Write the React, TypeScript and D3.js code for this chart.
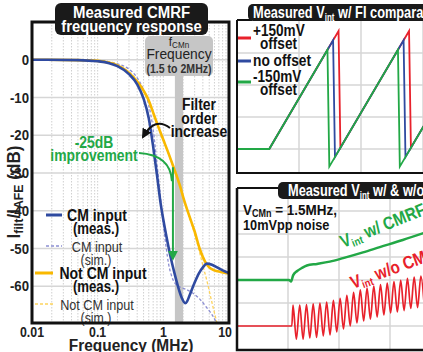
import React from "react";
import * as d3 from "d3";

const FONT = "'Liberation Sans', Arial, sans-serif";

// ---------------- Left chart: measured CMRF frequency response ----------------
const freqTicks = [0.01, 0.1, 1, 10];
const freqTickLabels = ["0.01", "0.1", "1", "10"];
const dbTicks = [0, -10, -20, -30, -40, -50, -60];
const dbTickLabels = ["0", "-10", "-20", "-30", "-40", "-50", "-60"];
const fcmnBand = [1.5, 2];

const cmMeas: [number, number][] = [
  [0.01, 0], [0.05, -0.1], [0.1, -0.4], [0.15, -0.9], [0.2, -1.7], [0.3, -3.8], [0.4, -6.5],
  [0.5, -10.3], [0.6, -15.5], [0.7, -23], [0.8, -30.5], [0.9, -37.5], [1.0, -42.4], [1.14, -47.7],
  [1.28, -52], [1.5, -57], [1.7, -60.5], [1.9, -63], [2.15, -64.5], [2.3, -64], [2.5, -62.5],
  [3.0, -59], [3.5, -56.5], [4.0, -55], [4.6, -54], [5.5, -54.3], [6.6, -55], [8, -55.8], [10, -56.5],
];
const cmSim: [number, number][] = [
  [0.01, 0], [0.1, -0.2], [0.2, -1.1], [0.3, -2.5], [0.4, -4.8], [0.5, -8], [0.6, -12],
  [0.7, -18.5], [0.8, -27.5], [0.9, -36], [1.0, -43.5], [1.1, -49.5], [1.2, -54], [1.35, -57.5],
  [1.5, -59.2], [1.8, -60.2], [2.2, -60.8], [2.8, -61.8], [3.5, -63.2], [4.5, -65.5], [5.5, -67.5],
  [6.6, -70], [7.5, -72],
];
const notCmMeas: [number, number][] = [
  [0.01, 0], [0.05, -0.1], [0.1, -0.3], [0.15, -0.8], [0.2, -1.5], [0.3, -3.5], [0.4, -5.8],
  [0.5, -8.2], [0.6, -10.8], [0.7, -14], [0.8, -16.8], [1.0, -21.2], [1.2, -24.8], [1.4, -28],
  [1.6, -30.8], [1.8, -33.5], [2.0, -36.3], [2.5, -41.5], [3.0, -45.5], [3.6, -50.2], [4.3, -53.4],
  [5.0, -55], [6.0, -55.8], [7.5, -56.2], [10, -56.6],
];
const notCmSim: [number, number][] = [
  [0.01, 0], [0.1, -0.2], [0.2, -1.3], [0.3, -3.2], [0.4, -5.5], [0.5, -8], [0.6, -10.8],
  [0.7, -14], [0.8, -16.9], [1.0, -21.4], [1.4, -28.2], [2.0, -36.5], [2.5, -41.8], [3.0, -46.2],
  [3.5, -50.5], [4.0, -54.5], [4.6, -58.5], [5.2, -62.5], [5.8, -66], [6.5, -69.5], [7.2, -73],
];
const improvementArrow = { f: 1.4, from: -29, to: -53.5 };

const legendMain = ["CM input", "CM input", "Not CM input", "Not CM input"];
const legendSub = ["(meas.)", "(sim.)", "(meas.)", "(sim.)"];

// ---------------- Top-right: V_int with FI comparator ----------------
const ficGridX = [1, 2, 3, 4];
const ficGridY = [0, 1, 2, 3];
const ficRed: [number, number][] = [[0, 0], [0.52, 0], [1.638, 3.69], [1.668, 0.04], [2.775, 3.69], [2.805, 0.04], [3.1, 1.01]];
const ficBlue: [number, number][] = [[0, 0], [0.52, 0], [1.55, 3.4], [1.58, -0.25], [2.687, 3.4], [2.717, -0.25], [3.1, 1.01]];
const ficGreen: [number, number][] = [[0, 0], [0.52, 0], [1.459, 3.1], [1.489, -0.55], [2.596, 3.1], [2.626, -0.55], [3.1, 1.01]];
const ficLegend = [["+150mV", "offset"], ["no offset"], ["-150mV", "offset"]];

// ---------------- Bottom-right: V_int with & without CMRF ----------------
const cmrGridX = [1, 2, 3, 4];
const cmrGridY = [1, 2, 3, 4, 5, 6];
const cmrGreen: [number, number][] = [
  [0, 3], [1.02, 3], [1.06, 2.93], [1.1, 3.2], [1.18, 3.39], [1.27, 3.52], [1.37, 3.63], [1.57, 3.7],
  [1.82, 3.8], [2.08, 3.95], [2.47, 4.2], [2.8, 4.43], [3.25, 4.74], [3.7, 5.07],
];
const cmrRedFlat: [number, number][] = [[0, 1], [1.05, 1], [1.075, 1]];
const cmrRedT = [
  1.098, 1.164, 1.23, 1.296, 1.362, 1.428, 1.494, 1.56, 1.626, 1.692, 1.758, 1.824, 1.89, 1.956,
  2.022, 2.088, 2.154, 2.22, 2.286, 2.352, 2.418, 2.484, 2.55, 2.616, 2.682, 2.748, 2.814, 2.88,
  2.946, 3.012, 3.078, 3.144, 3.21, 3.276, 3.342, 3.408, 3.474, 3.54, 3.606, 3.672,
];
const cmrRedV = [
  1.91, 0.43, 1.91, 0.43, 1.93, 0.48, 1.96, 0.5, 2.0, 0.57, 2.04, 0.61, 2.11, 0.74,
  2.2, 0.87, 2.33, 1.0, 2.46, 1.13, 2.57, 1.22, 2.65, 1.3, 2.74, 1.39, 2.8, 1.48,
  2.87, 1.57, 2.93, 1.61, 2.98, 1.67, 3.07, 1.76, 3.13, 1.8, 3.17, 1.85,
];

const BLUE = "#2f4aa0";
const YEL = "#f9b800";
const BLUE_SIM = "#8c8ed2";
const YEL_SIM = "#fdd35c";
const GREEN = "#22a846";
const RED = "#e8212b";
const GRID = "#d6d6d6";

// condensed text helper (horizontal squeeze like a condensed face)
function T(props: any) {
  const { x, y, s = 0.84, rot = 0, children, ...rest } = props;
  return (
    <text transform={`translate(${x},${y})${rot ? ` rotate(${rot})` : ""} scale(${s},1)`} {...rest}>
      {children}
    </text>
  );
}

export default function App() {
  const x = d3.scaleLog().domain([0.01, 10]).range([32, 229]);
  const y = d3.scaleLinear().domain([10, -70]).range([22, 324]);
  const line = d3.line<[number, number]>().x((d) => x(d[0])).y((d) => y(d[1])).curve(d3.curveMonotoneX);
  const minorTicks = x.ticks().filter((t) => t > 0.01 && t < 10);

  const fx = d3.scaleLinear().domain([0, 5]).range([237, 547]);
  const fy = d3.scaleLinear().domain([-0.75, 4]).range([173, 21]);
  const fline = d3.line<[number, number]>().x((d) => fx(d[0])).y((d) => fy(d[1]));

  const cx = d3.scaleLinear().domain([0, 5]).range([237, 492]);
  const cy = d3.scaleLinear().domain([0, 7]).range([349, 188]);
  const cline = d3.line<[number, number]>().x((d) => cx(d[0])).y((d) => cy(d[1])).curve(d3.curveMonotoneX);
  const redPts: [number, number][] = [...cmrRedFlat, ...cmrRedT.map((t, i) => [t, cmrRedV[i]] as [number, number])];

  const ax = x(improvementArrow.f);
  const legY = [215, 246, 273, 304];
  const legX0 = [46, 46, 35, 35];
  const legX1 = [62, 62, 53, 55];

  return (
    <svg width={423} height={352} style={{ position: "fixed", left: 0, top: 0, background: "#fff" }} fontFamily={FONT}>
      <defs>
        <clipPath id="lc">
          <rect x={32} y={22} width={197} height={302} />
        </clipPath>
        <clipPath id="trc">
          <rect x={237} y={21} width={200} height={152} />
        </clipPath>
        <clipPath id="brc">
          <rect x={237} y={188} width={200} height={161} />
        </clipPath>
        <marker id="arrG" viewBox="0 0 10 10" refX={8} refY={5} markerWidth={5} markerHeight={5} orient="auto">
          <path d="M0,0 L10,5 L0,10 z" fill={GREEN} />
        </marker>
        <marker id="arrK" viewBox="0 0 10 10" refX={8} refY={5} markerWidth={5} markerHeight={5} orient="auto">
          <path d="M0,0 L10,5 L0,10 z" fill="#111" />
        </marker>
      </defs>
      <rect width={423} height={352} fill="#fff" />

      {/* ---------- top-right panel ---------- */}
      <g>
        {ficGridX.map((t) => (
          <line key={t} x1={fx(t)} x2={fx(t)} y1={21} y2={173} stroke={GRID} strokeWidth={1.5} />
        ))}
        {ficGridY.map((v) => (
          <line key={v} x1={237} x2={423} y1={fy(v)} y2={fy(v)} stroke={GRID} strokeWidth={1.5} />
        ))}
        <g clipPath="url(#trc)" fill="none" strokeWidth={1.8}>
          <path d={fline(ficRed) || ""} stroke={RED} />
          <path d={fline(ficBlue) || ""} stroke={BLUE} />
          <path d={fline(ficGreen) || ""} stroke={GREEN} />
        </g>
        <path d="M237,20 L237,173 L440,173" fill="none" stroke="#111" strokeWidth={2} />
        <line x1={237} x2={252} y1={20} y2={20} stroke="#111" strokeWidth={2} />
        <rect x={248} y={4} width={200} height={17} rx={5} fill="#1a1a1a" />
        <T x={253} y={18} s={0.8} fill="#fff" fontWeight="bold" fontSize={16}>
          Measured V<tspan fontSize={10} dy={3}>int</tspan><tspan dy={-3}> w/ FI comparator</tspan>
        </T>
        {[RED, BLUE, GREEN].map((c, i) => (
          <line key={c} x1={238} x2={251} y1={[38, 61, 82][i]} y2={[38, 61, 82][i]} stroke={c} strokeWidth={3} />
        ))}
        <g fontWeight="bold" fontSize={16} fill="#111">
          <T x={253} y={36} s={0.85}>{ficLegend[0][0]}</T>
          <T x={260} y={49} s={0.85}>{ficLegend[0][1]}</T>
          <T x={253} y={66} s={0.86}>{ficLegend[1][0]}</T>
          <T x={253} y={82} s={0.85}>{ficLegend[2][0]}</T>
          <T x={260} y={95} s={0.85}>{ficLegend[2][1]}</T>
        </g>
      </g>

      {/* ---------- bottom-right panel ---------- */}
      <g>
        {cmrGridX.map((t) => (
          <line key={t} x1={cx(t)} x2={cx(t)} y1={188} y2={349} stroke={GRID} strokeWidth={1.5} />
        ))}
        {cmrGridY.map((v) => (
          <line key={v} x1={237} x2={423} y1={cy(v)} y2={cy(v)} stroke={GRID} strokeWidth={1.5} />
        ))}
        <g clipPath="url(#brc)" fill="none">
          <path d={cline(redPts) || ""} stroke={RED} strokeWidth={1.7} />
          <path d={cline(cmrGreen) || ""} stroke={GREEN} strokeWidth={2.5} />
        </g>
        <path d="M237,188 L237,350 L440,350" fill="none" stroke="#111" strokeWidth={2.5} />
        <line x1={237} x2={282} y1={188} y2={188} stroke="#111" strokeWidth={2} />
        <rect x={278} y={182} width={200} height={17} rx={5} fill="#1a1a1a" />
        <T x={288} y={196} s={0.8} fill="#fff" fontWeight="bold" fontSize={16}>
          Measured V<tspan fontSize={10} dy={3}>int</tspan><tspan dy={-3}> w/ &amp; w/o CMRF</tspan>
        </T>
        <g fontWeight="bold" fontSize={15} fill="#111">
          <T x={243} y={215} s={0.9}>
            V<tspan fontSize={10} dy={2}>CMn</tspan><tspan dy={-2}> = 1.5MHz,</tspan>
          </T>
          <T x={243} y={230} s={0.85}>10mVpp noise</T>
        </g>
        <T x={343} y={248} rot={-22} s={0.85} fontWeight="bold" fontSize={18} fill={GREEN}>
          V<tspan fontSize={11} dy={3}>int</tspan><tspan dy={-3}> w/ CMRF</tspan>
        </T>
        <T x={353} y={289} rot={-20} s={0.85} fontWeight="bold" fontSize={18} fill={RED}>
          V<tspan fontSize={11} dy={3}>int</tspan><tspan dy={-3}> w/o CMRF</tspan>
        </T>
      </g>

      {/* ---------- left chart ---------- */}
      <rect x={0} y={0} width={232} height={352} fill="#fff" />
      <g>
        {minorTicks.map((t, i) => (
          <line key={i} x1={x(t)} x2={x(t)} y1={22} y2={324} stroke="#cfcfcf" strokeWidth={1} strokeDasharray="1.5,1.5" />
        ))}
        {dbTicks.map((v) => (
          <line key={v} x1={32} x2={229} y1={y(v)} y2={y(v)} stroke={GRID} strokeWidth={1.5} />
        ))}
        <rect x={x(fcmnBand[0])} y={70} width={x(fcmnBand[1]) - x(fcmnBand[0])} height={324 - 70} fill="#c6c6c6" />
        <rect x={145} y={36} width={68} height={40} rx={5} fill="#c6c6c6" />
        <T x={179} y={46} s={0.9} textAnchor="middle" fontSize={13} fill="#222">
          f<tspan fontSize={9} dy={2}>CMn</tspan>
        </T>
        <T x={179} y={59} s={0.92} textAnchor="middle" fontSize={15} fill="#222">Frequency</T>
        <T x={179} y={72.5} s={0.88} textAnchor="middle" fontSize={12} fontWeight="bold" fill="#333">(1.5 to 2MHz)</T>

        <g clipPath="url(#lc)" fill="none">
          <path d={line(cmSim) || ""} stroke={BLUE_SIM} strokeWidth={1.3} strokeDasharray="3,2" />
          <path d={line(notCmSim) || ""} stroke={YEL_SIM} strokeWidth={1.3} strokeDasharray="3,2" />
          <path d={line(notCmMeas) || ""} stroke={YEL} strokeWidth={2.6} />
          <path d={line(cmMeas) || ""} stroke={BLUE} strokeWidth={2.6} />
        </g>

        {/* -25dB improvement annotation */}
        <path
          d={`M139,153 C155,154 ${ax - 2},160 ${ax - 1},${y(improvementArrow.from) + 12}`}
          fill="none" stroke={GREEN} strokeWidth={2}
        />
        <line x1={ax} x2={ax} y1={y(improvementArrow.from) - 2} y2={y(improvementArrow.to) - 3}
          stroke={GREEN} strokeWidth={2} markerEnd="url(#arrG)" />
        <g fontWeight="bold" fontSize={17} fill={GREEN} textAnchor="middle">
          <T x={94} y={148} s={0.82}>-25dB</T>
          <T x={94} y={161} s={0.82}>improvement</T>
        </g>

        {/* Filter order increase annotation */}
        <path d="M170,128 Q155,116 143,137" fill="none" stroke="#111" strokeWidth={2} markerEnd="url(#arrK)" />
        <g fontWeight="bold" fontSize={17} fill="#111" textAnchor="middle">
          <T x={199} y={110} s={0.82}>Filter</T>
          <T x={199} y={124} s={0.82}>order</T>
          <T x={199} y={137} s={0.82}>increase</T>
        </g>

        {/* legend */}
        {legendMain.map((m, i) => {
          const meas = i % 2 === 0;
          return (
            <g key={i}>
              <line x1={legX0[i]} x2={legX1[i]} y1={legY[i]} y2={legY[i]}
                stroke={[BLUE, BLUE_SIM, YEL, YEL_SIM][i]} strokeWidth={meas ? 3 : 1.5}
                strokeDasharray={meas ? undefined : "3,2"} />
              <T x={i === 2 ? 103 : 97} y={legY[i] + 5.5} s={meas ? 0.85 : 0.87} textAnchor="middle"
                fontWeight={meas ? "bold" : "normal"} fontSize={meas ? 16.5 : 14.5}
                fill={meas ? "#111" : "#333"}>{m}</T>
              <T x={96} y={legY[i] + 19} s={meas ? 0.8 : 0.85} textAnchor="middle"
                fontWeight={meas ? "bold" : "normal"} fontSize={meas ? 16.5 : 14.5}
                fill={meas ? "#111" : "#333"}>{legendSub[i]}</T>
            </g>
          );
        })}

        {/* frame */}
        <rect x={32} y={22} width={197} height={301} fill="none" stroke="#111" strokeWidth={3} />

        {/* axes labels */}
        <g fontWeight="bold" fill="#222">
          {dbTicks.map((v, i) => (
            <T key={v} x={29} y={y(v) + 5} s={0.88} fontSize={15} textAnchor="end">{dbTickLabels[i]}</T>
          ))}
          {freqTicks.map((f, i) => (
            <T key={f} x={i === 3 ? x(f) - 4 : x(f)} y={337} s={0.85} fontSize={14.5} textAnchor="middle">{freqTickLabels[i]}</T>
          ))}
        </g>
        <T x={131} y={351} s={0.91} textAnchor="middle" fontWeight="bold" fontSize={17} fill="#222">Frequency (MHz)</T>
        <T x={20} y={192} rot={-90} s={0.95} textAnchor="middle" fontWeight="bold" fontSize={18} fill="#222">
          I<tspan fontSize={13} dy={3}>filt</tspan><tspan dy={-3}>/I</tspan><tspan fontSize={13} dy={3}>AFE</tspan><tspan dy={-3}> (dB)</tspan>
        </T>

        {/* title */}
        <rect x={55} y={3} width={153} height={32} rx={6} fill="#1a1a1a" />
        <g fill="#fff" fontWeight="bold" fontSize={17} textAnchor="middle">
          <T x={131.5} y={17.5} s={0.88}>Measured CMRF</T>
          <T x={131.5} y={31.5} s={0.87}>frequency response</T>
        </g>
      </g>
    </svg>
  );
}
